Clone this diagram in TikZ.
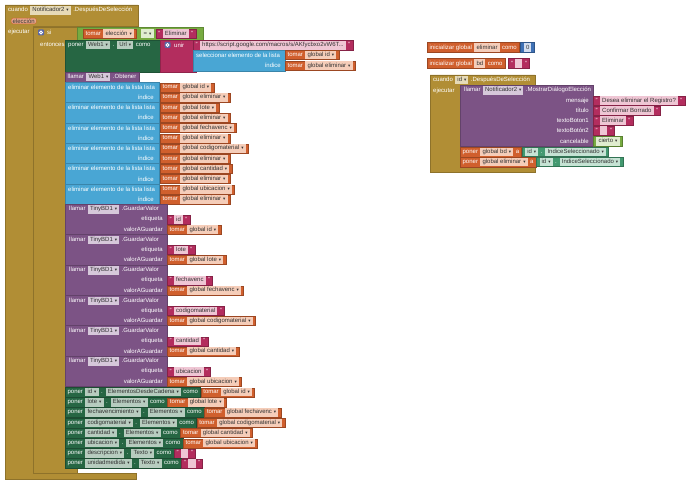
\documentclass[tikz,border=0pt]{standalone}
\usepackage{fontspec}
\setmainfont{Liberation Sans}
\newfontfamily\symf{DejaVu Sans}
\usepackage{xcolor}
\usetikzlibrary{positioning}

\definecolor{mustard}{HTML}{B18E35}
\definecolor{varo}{HTML}{D05F2D}
\definecolor{txtm}{HTML}{B32D5E}
\definecolor{lstb}{HTML}{49A6D4}
\definecolor{cmpp}{HTML}{7C5385}
\definecolor{setg}{HTML}{266643}
\definecolor{getg}{HTML}{439970}
\definecolor{logg}{HTML}{77AB41}
\definecolor{mathb}{HTML}{3F71B5}
\definecolor{gearb}{HTML}{5B67A5}
% colores de los campos
\definecolor{cvaro}{HTML}{F5CDB9}
\definecolor{csetg}{HTML}{B7CCBF}
\definecolor{ccmpp}{HTML}{D6C8DA}
\definecolor{cmust}{HTML}{E6DAB8}
\definecolor{ctxtm}{HTML}{EFC6D4}
\definecolor{cgetg}{HTML}{C6E3D4}
\definecolor{clogg}{HTML}{E0EDCF}
\definecolor{cmathb}{HTML}{D3DEF0}
\definecolor{chipt}{HTML}{333333}

\newcommand\bfs{\fontsize{6}{7}\selectfont}
\newcommand\dd{\hspace{2pt}{\symf\fontsize{4.5}{4.5}\selectfont▾}}
\setlength\fboxsep{0.7pt}
\newcommand\ch[2]{\hspace{0.8pt}\colorbox{#1}{\strut\hspace{1.4pt}\textcolor{chipt}{#2}\hspace{1.4pt}}\hspace{0.8pt}}

\tikzset{
  lbl/.style={text=white, inner sep=0pt, anchor=west, font=\bfs},
  blk/.style={anchor=north west, inner xsep=2.5pt, inner ysep=0pt, minimum height=10pt,
    text=white, draw=#1!75!black, fill=#1, line width=.3pt, font=\bfs},
  gear/.style={fill=gearb, rounded corners=1pt, minimum size=6pt, inner sep=0pt},
  param/.style={fill=varo!55!white, draw=varo, rounded corners=1.5pt, inner xsep=1.5pt,
    inner ysep=0.6pt, text=chipt, anchor=west, font=\bfs},
}

\begin{document}
\begin{tikzpicture}[x=1pt, y=-1pt]
    \useasboundingbox (0,0) rectangle (690,494);
    \fill[white] (0,0) rectangle (690,494);

    % Evento principal
    \filldraw[fill=mustard, draw=mustard!80!black, line width=.3pt]
        (5,5) -- (138,5) -- (138,26) -- (33,26) -- (33,473) -- (136,473) -- (136,479) -- (5,479) -- cycle;
    \node[lbl] (cu) at (8,10.5) {cuando \ch{cmust}{Notificador2\dd} .DespuésDeSelección};
    \node[param] (pel) at (11,21) {elección};
    \node[lbl] (ej) at (8,32) {ejecutar};

    % Bloque si
    \filldraw[fill=mustard, draw=mustard!80!black, line width=.3pt]
        (33,27) -- (77,27) -- (77,40) -- (65,40) -- (65,468) -- (77,468) -- (77,473) -- (33,473) -- cycle;
    \node[gear] (g1) at (41,32.5) {};
    \draw[white, line width=.8pt] (g1.center) circle (1.5pt);
    \node[lbl] (si) at (47,32.5) {si};
    \node[lbl] (en) at (40,45) {entonces};

    % Condicion
    \filldraw[fill=logg, draw=logg!80!black, line width=.3pt] (77,27) rectangle (203,40);
    \node[blk=varo, minimum height=9pt] (c1) at (83,29) {tomar \ch{cvaro}{elección\dd}};
    \node[inner sep=0pt, font=\bfs, right=3pt of c1] (c2) {\ch{clogg}{\,=\dd}};
    \node[blk=txtm, minimum height=9pt, right=2pt of c2] (c3) {" \ch{ctxtm}{Eliminar} "};

    % poner Web1.Url
    \filldraw[fill=setg, draw=setg!80!black, line width=.3pt] (65,40) rectangle (160,72);
    \node[lbl] (pw) at (68,45) {poner \ch{csetg}{Web1\dd} . \ch{csetg}{Url\dd} como};
    \filldraw[fill=txtm, draw=txtm!80!black, line width=.3pt] (160,40) rectangle (196,72);
    \node[gear] (g2) at (167.5,45) {};
    \draw[white, line width=.8pt] (g2.center) circle (1.5pt);
    \node[lbl] (un) at (174,45) {unir};
    \node[blk=txtm, minimum height=9.5pt] (url) at (193,40.5)
        {" \ch{ctxtm}{https://script.google.com/macros/s/AKfycbxo2vW6T...} "};
    \filldraw[fill=lstb, draw=lstb!80!black, line width=.3pt] (193,50) rectangle (285,71);
    \node[lbl] (sel) at (196,55) {seleccionar elemento de la lista};
    \node[lbl, anchor=east] (sidx) at (281,65.5) {índice};
    \node[blk=varo, minimum height=9pt] (s1) at (285,50.5) {tomar \ch{cvaro}{global id\dd}};
    \node[blk=varo, minimum height=9pt] (s2) at (285,61) {tomar \ch{cvaro}{global eliminar\dd}};

    \node[blk=cmpp] (ob) at (65,72) {llamar \ch{ccmpp}{Web1\dd} .Obtener};

    % eliminar elementos de las listas
    \foreach \v [count=\i from 0] in {id, lote, fechavenc, codigomaterial, cantidad, ubicacion} {
        \pgfmathsetmacro\yy{82+20.4*\i}
        \filldraw[fill=lstb, draw=lstb!80!black, line width=.3pt] (65,\yy) rectangle (159,\yy+20.4);
        \node[lbl] (el\i) at (68,\yy+5.2) {eliminar elemento de la lista lista};
        \node[lbl, anchor=east] (ei\i) at (154,\yy+15.3) {índice};
        \node[blk=varo, minimum height=9pt] (ev\i) at (160,\yy+0.7) {tomar \ch{cvaro}{global \v\dd}};
        \node[blk=varo, minimum height=9pt] (ee\i) at (160,\yy+10.9) {tomar \ch{cvaro}{global eliminar\dd}};
    }

    % TinyBD1.GuardarValor
    \foreach \v [count=\i from 0] in {id, lote, fechavenc, codigomaterial, cantidad, ubicacion} {
        \pgfmathsetmacro\yy{204+30.4*\i}
        \filldraw[fill=cmpp, draw=cmpp!80!black, line width=.3pt] (65,\yy) rectangle (167,\yy+30.4);
        \node[lbl] (gv\i) at (69,\yy+5.5) {llamar \ch{ccmpp}{TinyBD1\dd} .GuardarValor};
        \node[lbl, anchor=east] (ge\i) at (163,\yy+15.3) {etiqueta};
        \node[lbl, anchor=east] (ga\i) at (163,\yy+25.4) {valorAGuardar};
        \node[blk=txtm, minimum height=9pt] (gt\i) at (167,\yy+11) {" \ch{ctxtm}{\v} "};
        \node[blk=varo, minimum height=9pt] (gg\i) at (167,\yy+21) {tomar \ch{cvaro}{global \v\dd}};
    }

    % poner componentes
    \foreach \c/\p/\v [count=\i from 0] in {id/ElementosDesdeCadena/id, lote/Elementos/lote,
        fechavencimiento/Elementos/fechavenc, codigomaterial/Elementos/codigomaterial,
        cantidad/Elementos/cantidad, ubicacion/Elementos/ubicacion} {
        \node[blk=setg] (pn\i) at (65,387+10.2*\i) {poner \ch{csetg}{\c\dd} . \ch{csetg}{\p\dd} como};
        \node[blk=varo, minimum height=9pt, right=0pt of pn\i] (pv\i) {tomar \ch{cvaro}{global \v\dd}};
    }
    \foreach \c [count=\i from 6] in {descripcion, unidadmedida} {
        \node[blk=setg] (pn\i) at (65,387+10.2*\i) {poner \ch{csetg}{\c\dd} . \ch{csetg}{Texto\dd} como};
        \node[blk=txtm, minimum height=9pt, right=0pt of pn\i] (pv\i) {" \ch{ctxtm}{\hspace{3pt}} "};
    }

    % Variables globales
    \node[blk=varo] (ie) at (427,42.5) {inicializar global \ch{cvaro}{eliminar} como};
    \node[blk=mathb, right=1pt of ie] (n0) {\ch{cmathb}{0}};
    \node[blk=varo] (ib) at (427,58.5) {inicializar global \ch{cvaro}{bd} como};
    \node[blk=txtm, right=3pt of ib] (tb) {" \ch{ctxtm}{\hspace{3pt}} "};

    % Evento de id
    \filldraw[fill=mustard, draw=mustard!80!black, line width=.3pt]
        (430,75) -- (535,75) -- (535,85) -- (460,85) -- (460,167) -- (535,167) -- (535,172) -- (430,172) -- cycle;
    \node[lbl] (cu2) at (433,80) {cuando \ch{cmust}{id\dd} .DespuésDeSelección};
    \node[lbl] (ej2) at (433,91) {ejecutar};
    \filldraw[fill=cmpp, draw=cmpp!80!black, line width=.3pt] (460,85) rectangle (593,146.5);
    \node[lbl] (ll2) at (464,90.5) {llamar \ch{ccmpp}{Notificador2\dd} .MostrarDiálogoElección};
    \foreach \a/\yy in {mensaje/100.5, título/110.5, textoBoton1/120.5, textoBotón2/130.5, cancelable/141} {
        \node[lbl, anchor=east] (a-\a) at (589,\yy) {\a};
    }
    \node[blk=txtm, minimum height=9pt] (m1) at (593,96) {" \ch{ctxtm}{Desea eliminar el Registro?} "};
    \node[blk=txtm, minimum height=9pt] (m2) at (593,106) {" \ch{ctxtm}{Confirmar Borrado} "};
    \node[blk=txtm, minimum height=9pt] (m3) at (593,116) {" \ch{ctxtm}{Eliminar} "};
    \node[blk=txtm, minimum height=9pt] (m4) at (593,126) {" \ch{ctxtm}{\hspace{3pt}} "};
    \node[blk=logg, minimum height=9.5pt] (m5) at (593,136.5) {\ch{clogg}{cierto\dd}};

    \node[blk=varo] (pb) at (460,147) {poner \ch{cvaro}{global bd\dd} a};
    \node[blk=getg, minimum height=9pt, right=0pt of pb] (gb) {\ch{cgetg}{id\dd} . \ch{cgetg}{IndiceSeleccionado\dd}};
    \node[blk=varo] (pe) at (460,157) {poner \ch{cvaro}{global eliminar\dd} a};
    \node[blk=getg, minimum height=9pt, right=0pt of pe] (gE) {\ch{cgetg}{id\dd} . \ch{cgetg}{IndiceSeleccionado\dd}};
\end{tikzpicture}
\end{document}
